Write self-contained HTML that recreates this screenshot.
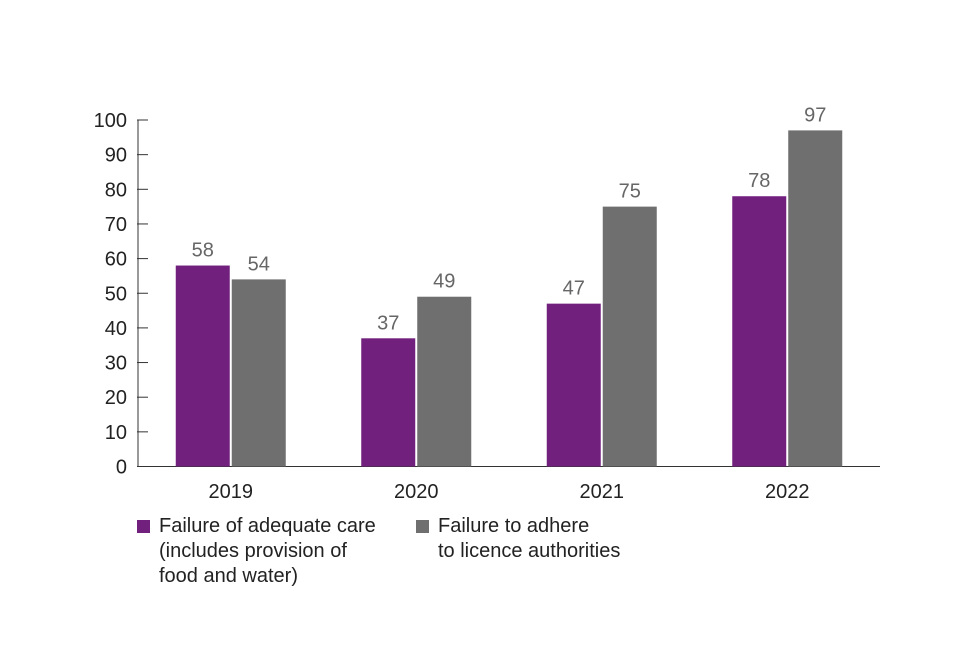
<!DOCTYPE html>
<html><head><meta charset="utf-8"><style>
body{margin:0;background:#fff;}
svg text{font-family:"Liberation Sans",sans-serif;}
</style></head><body>
<svg id="chart" width="960" height="640"></svg>
<script>
const categories=["2019","2020","2021","2022"];
const careValues=[58,37,47,78];
const licenceValues=[54,49,75,97];
const yTicks=[0,10,20,30,40,50,60,70,80,90,100];
const NS="http://www.w3.org/2000/svg";
const svg=document.getElementById('chart');
const y0=466.5,y1=120,x0=138,x1=880;
function yS(v){return y0-(v/100)*(y0-y1);}
const bw=(x1-x0)/categories.length;
function xC(i){return x0+bw*(i+0.5);}
function mk(t,a,txt){const e=document.createElementNS(NS,t);for(const k in a)e.setAttribute(k,a[k]);if(txt!==undefined)e.textContent=txt;svg.appendChild(e);return e;}
let e;
e=mk('line',{x1:x0,y1:y1,x2:x0,y2:y0,stroke:'#333','stroke-width':1});


e=mk('line',{x1:x0,y1:y0,x2:x1,y2:y0,stroke:'#333','stroke-width':1});


yTicks.forEach(v=>{
 e=mk('line',{x1:x0-1,y1:yS(v),x2:x0+10,y2:yS(v),stroke:'#333','stroke-width':1});
 
 
 e=mk('text',{x:x0-11,y:yS(v)+7,'text-anchor':'end','font-size':20,fill:'#222'},v);
 
 
});
categories.forEach((c,i)=>{
 const cx=xC(i);
 [[careValues[i],'#72207e',cx-55],[licenceValues[i],'#6f6f6f',cx+1]].forEach(([v,col,bx],j)=>{
  e=mk('rect',{x:bx,y:yS(v),width:54,height:y0-yS(v),fill:col});
  
  
  e=mk('text',{x:bx+27,y:yS(v)-9,'text-anchor':'middle','font-size':20,fill:'#666'},v);
  
  
 });
 e=mk('text',{x:cx,y:498,'text-anchor':'middle','font-size':20,fill:'#222'},c);
 
 
});
</script>
<div style="position:absolute;left:0;top:0;font-family:'Liberation Sans',sans-serif;font-size:20px;color:#222;line-height:25px;">
 <div style="position:absolute;left:137px;top:514px;width:270px;">
  <span style="position:absolute;left:0;top:6px;width:13px;height:13px;background:#72207e"></span>
  <div style="margin-left:22px">Failure of adequate care<br>(includes provision of<br>food and water)</div>
 </div>
 <div style="position:absolute;left:416px;top:514px;width:270px;">
  <span style="position:absolute;left:0;top:6px;width:13px;height:13px;background:#6f6f6f"></span>
  <div style="margin-left:22px">Failure to adhere<br>to licence authorities</div>
 </div>
</div>
</body></html>
